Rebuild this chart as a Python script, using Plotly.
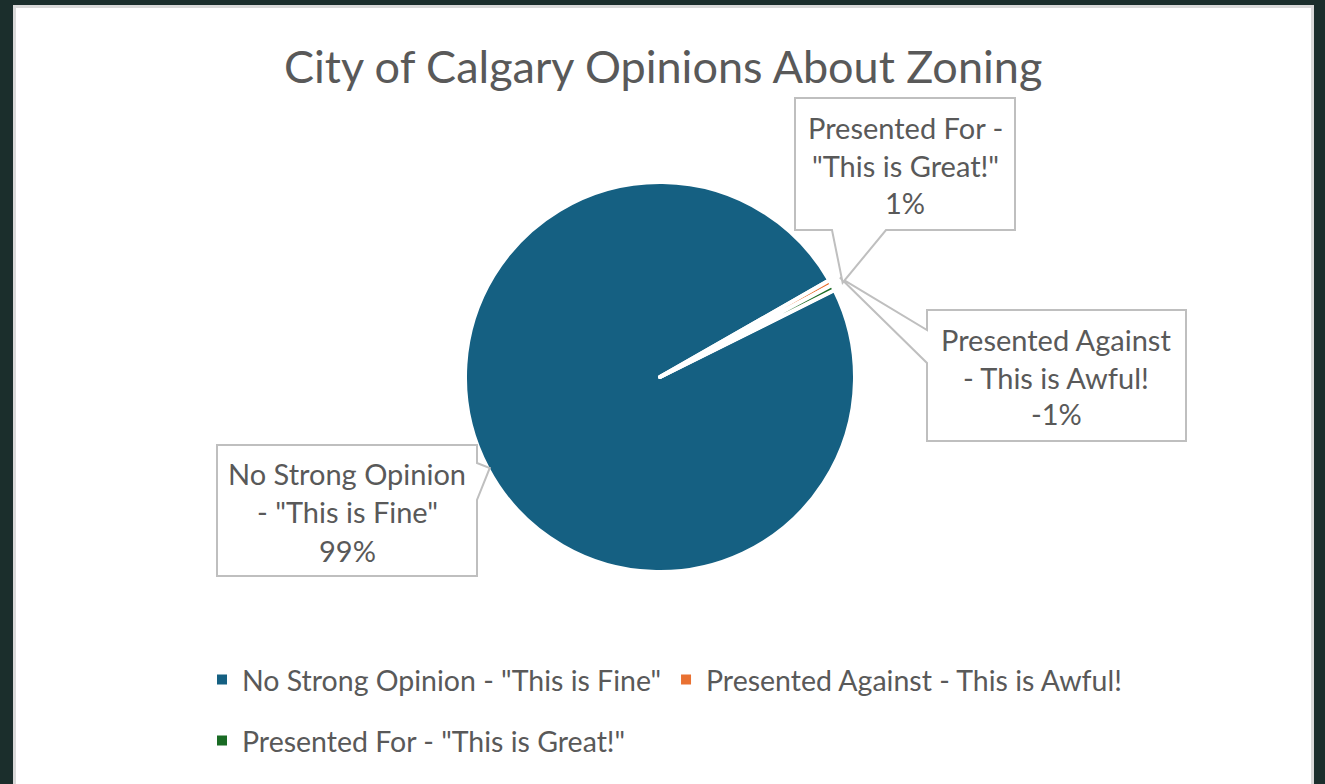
import math
import plotly.graph_objects as go

# ---- data ----
categories = ['No Strong Opinion - "This is Fine"',
              'Presented Against - This is Awful!',
              'Presented For - "This is Great!"']
shown_pct = [99, -1, 1]              # percentages printed in the callouts
slice_share = [99.1, 0.45, 0.45]     # slice sizes as drawn
label_lines = [['No Strong Opinion', '- "This is Fine"'],
               ['Presented Against', '- This is Awful!'],
               ['Presented For -', '"This is Great!"']]
colors = ['#156082', '#E97132', '#196B24']
legend_rows = ['legend', 'legend', 'legend2']
title = 'City of Calgary Opinions About Zoning'

W, H = 1325, 784
FONT = 'Lato'
GRAY = '#595959'
BOX = '#BFBFBF'
BG = '#1B2E2C'

def px(x):
    return x / W

def py(y):
    return 1 - y / H

# pie geometry (pixels)
cx, cy, R = 660, 377, 195
rotation = 63.5

fig = go.Figure()
fig.add_trace(go.Pie(
    labels=categories, values=slice_share, sort=False, direction='clockwise',
    rotation=rotation, marker=dict(colors=colors, line=dict(color='white', width=4)),
    textinfo='none', hoverinfo='label+percent', showlegend=False,
    domain=dict(x=[px(cx - R), px(cx + R)], y=[py(cy + R), py(cy - R)]),
))

# legend entries (one per category, split over two rows)
for cat, col, lg in zip(categories, colors, legend_rows):
    fig.add_trace(go.Scatter(x=[None], y=[None], mode='markers', name=cat, legend=lg,
                             marker=dict(symbol='square', size=10, color=col),
                             showlegend=True, hoverinfo='skip'))

# angle (clockwise from 12 o'clock) of each slice middle
tot = sum(slice_share)
mids = []
acc = 0
for v in slice_share:
    mids.append(rotation + (acc + v / 2) / tot * 360)
    acc += v

def rim(theta, k=1.0):
    t = math.radians(theta)
    r = R - 2
    return cx + k * r * math.sin(t), cy - k * r * math.cos(t)

shapes = []
# white chart area
shapes.append(dict(type='rect', xref='paper', yref='paper', x0=px(14.5), x1=px(1312.5),
                   y0=py(800), y1=py(6.5), fillcolor='white',
                   line=dict(color='#D9D9D9', width=3), layer='below'))

boxes = [
    dict(rect=(217, 445, 477, 576), side='right', p=(463, 500), tip=rim(mids[0], 1.0),
         cxl=347, ys=(473, 512, 550)),
    dict(rect=(927, 310, 1186, 441), side='left', p=(330, 363), tip=rim(mids[1], 1.065),
         cxl=1056, ys=(339, 377, 414)),
    dict(rect=(795, 98, 1015, 230), side='bottom', p=(832, 886), tip=rim(mids[2], 1.065),
         cxl=905, ys=(128, 165, 202)),
]

def P(x, y):
    return f'{px(x):.5f},{py(y):.5f}'

for i, b in enumerate(boxes):
    l, t, r, btm = b['rect']
    tx, ty = b['tip']
    if b['side'] == 'right':
        pts = [(l, t), (r, t), (r, b['p'][0]), (tx, ty), (r, b['p'][1]), (r, btm), (l, btm)]
    elif b['side'] == 'left':
        pts = [(l, t), (r, t), (r, btm), (l, btm), (l, b['p'][1]), (tx, ty), (l, b['p'][0])]
    else:
        pts = [(l, t), (r, t), (r, btm), (b['p'][1], btm), (tx, ty), (b['p'][0], btm), (l, btm)]
    path = 'M ' + ' L '.join(P(x, y) for x, y in pts) + ' Z'
    shapes.append(dict(type='path', xref='paper', yref='paper', path=path,
                       fillcolor='white', line=dict(color=BOX, width=2)))

annotations = []
for i, b in enumerate(boxes):
    lines = label_lines[i] + [f'{shown_pct[i]}%']
    for line, yy in zip(lines, b['ys']):
        annotations.append(dict(text=line, x=px(b['cxl']), y=py(yy), xref='paper', yref='paper',
                                showarrow=False, xanchor='center', yanchor='middle',
                                font=dict(family=FONT, size=29, color=GRAY)))

annotations.append(dict(text=title, x=px(663), y=py(66), xref='paper', yref='paper',
                        showarrow=False, xanchor='center', yanchor='middle',
                        font=dict(family=FONT, size=45, color=GRAY)))

legend_style = dict(orientation='h', xanchor='left', yanchor='middle',
                    font=dict(family=FONT, size=28.5, color=GRAY), bgcolor='rgba(0,0,0,0)',
                    itemclick=False, itemdoubleclick=False)

fig.update_layout(
    width=W, height=H, margin=dict(l=0, r=0, t=0, b=0),
    paper_bgcolor=BG, plot_bgcolor='rgba(0,0,0,0)',
    xaxis=dict(visible=False), yaxis=dict(visible=False),
    shapes=shapes, annotations=annotations,
    showlegend=True,
    legend=dict(x=px(202), y=py(680), **legend_style),
    legend2=dict(x=px(202), y=py(741), **legend_style),
)

fig.write_html('out.html', config={'displayModeBar': False},
               post_script="document.body.style.margin='0';document.body.style.background='%s';" % BG)
